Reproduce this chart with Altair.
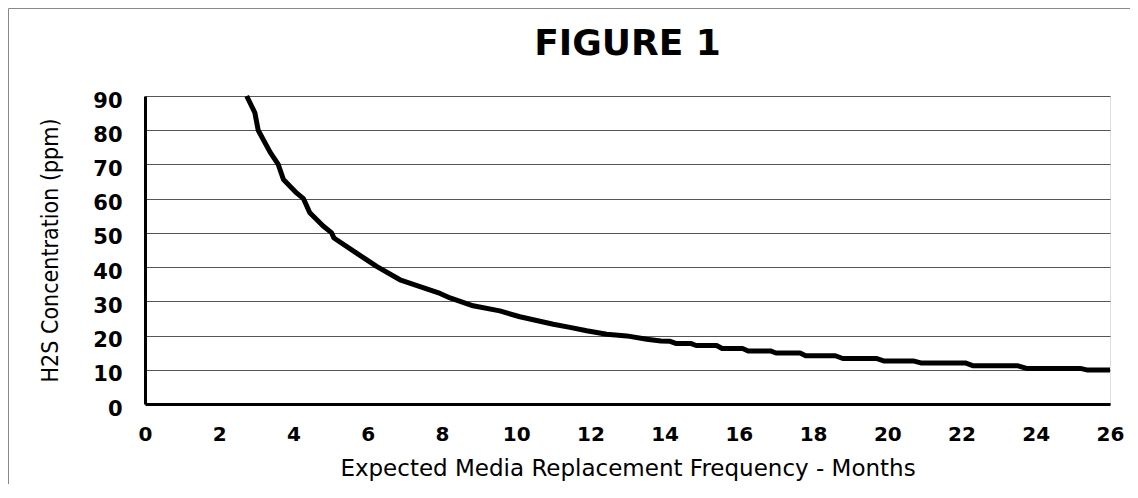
import altair as alt
import pandas as pd

months = [2.74, 2.96, 3.05, 3.37, 3.59, 3.73, 4.09, 4.27, 4.44, 4.80,
          5.03, 5.09, 5.70, 6.24, 6.87, 7.41, 7.95, 8.22, 8.84, 9.56,
          10.10, 10.55, 11.00, 11.45, 11.90, 12.44, 12.98, 13.52, 13.90, 14.15,
          14.30, 14.70, 14.85, 15.40, 15.55, 16.10, 16.25, 16.85, 17.00, 17.65,
          17.80, 18.60, 18.80, 19.70, 19.90, 20.70, 20.90, 22.10, 22.30, 23.50,
          23.75, 25.20, 25.40, 26.00]
ppm = [90, 85.1, 80, 73.6, 70, 65.6, 61.6, 60, 55.9, 52.0,
       50, 48.5, 44.1, 40.2, 36.3, 34.3, 32.3, 31.0, 28.7, 27.2,
       25.5, 24.4, 23.3, 22.4, 21.4, 20.4, 19.9, 18.9, 18.4, 18.3,
       17.7, 17.7, 17.1, 17.1, 16.2, 16.2, 15.5, 15.5, 14.9, 14.9,
       14.1, 14.1, 13.3, 13.3, 12.6, 12.6, 12.0, 12.0, 11.2, 11.2,
       10.4, 10.4, 9.9, 9.9]
x_ticks = list(range(0, 27, 2))
y_ticks = list(range(0, 91, 10))
chart_title = ["FIGURE 1"]

df = pd.DataFrame({"months": months, "ppm": ppm})
title_df = pd.DataFrame({"t": chart_title})

x_enc = alt.X("months:Q",
              scale=alt.Scale(domain=[0, 26], nice=False, zero=False),
              axis=alt.Axis(values=x_ticks, grid=False, ticks=True, tickSize=0,
                            domain=True, domainColor="#000", domainWidth=3,
                            labelFont="DejaVu Sans", labelFontWeight="bold",
                            labelFontSize=20, labelColor="#000",
                            labelBaseline="alphabetic", labelPadding=36,
                            labelFlush=False,
                            title="Expected Media Replacement Frequency - Months",
                            titleFont="DejaVu Sans", titleFontWeight="normal",
                            titleFontSize=23, titleColor="#000",
                            titleX=482.5, titleY=71, titleAlign="center",
                            titleBaseline="alphabetic"))
y_enc = alt.Y("ppm:Q",
              scale=alt.Scale(domain=[0, 90], nice=False),
              axis=alt.Axis(values=y_ticks, grid=True, gridColor="#555",
                            gridWidth=1, ticks=True, tickSize=0,
                            domain=True, domainColor="#000", domainWidth=3,
                            labelFont="DejaVu Sans", labelFontWeight="bold",
                            labelFontSize=21, labelColor="#000",
                            labelBaseline="alphabetic", labelOffset=11,
                            labelPadding=23, labelFlush=False,
                            title="H2S Concentration (ppm)",
                            titleFont="Liberation Sans Narrow, DejaVu Sans Condensed, sans-serif",
                            titleFontWeight="normal", titleFontSize=23,
                            titleColor="#000", titleAngle=270,
                            titleX=-88, titleY=154, titleAlign="center",
                            titleBaseline="alphabetic"))

line = alt.Chart(df).mark_line(color="#000", strokeWidth=5, strokeJoin="round",
                               strokeCap="butt").encode(x=x_enc, y=y_enc)

title_mark = alt.Chart(title_df).mark_text(
    font="DejaVu Sans", fontSize=36, fontWeight="bold", color="#000",
    align="center", baseline="alphabetic").encode(
    text="t:N", x=alt.value(482.5), y=alt.value(-41))

border_left = alt.Chart(title_df).mark_rule(color="#888", strokeWidth=1).encode(
    x=alt.value(-136.5), y=alt.value(-87.5), y2=alt.value(388))
border_top = alt.Chart(title_df).mark_rule(color="#888", strokeWidth=1).encode(
    x=alt.value(-136.5), x2=alt.value(985), y=alt.value(-87.5))

chart = alt.layer(line, title_mark, border_left, border_top).properties(
    width=965, height=308,
    padding={"left": 137, "top": 88, "right": 20, "bottom": 80},
    autosize=alt.AutoSizeParams(type="none"),
).configure_view(stroke="#000", strokeWidth=1).configure(background="white")

chart.save("out.html", embed_options={"renderer": "svg", "actions": False})
